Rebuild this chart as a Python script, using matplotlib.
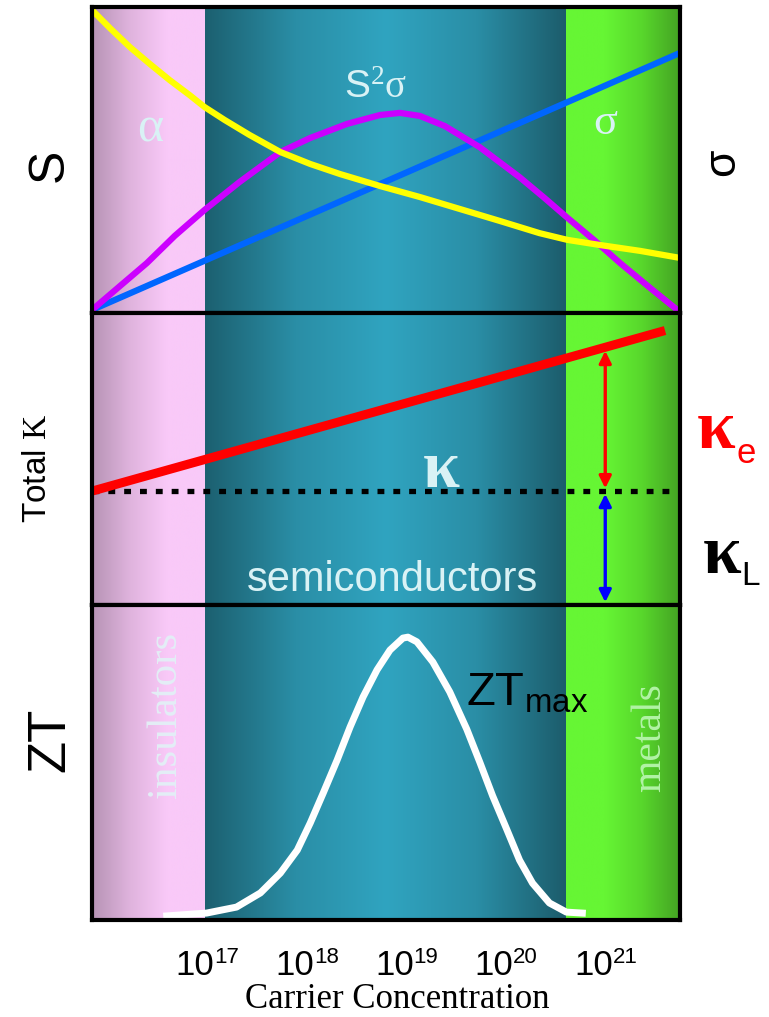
import numpy as np
import matplotlib.pyplot as plt
from matplotlib import font_manager
from matplotlib.colors import LinearSegmentedColormap

names = {f.name for f in font_manager.fontManager.ttflist}
narrow = 'Liberation Sans Narrow' if 'Liberation Sans Narrow' in names else 'Liberation Sans'

plt.rcParams['mathtext.fontset'] = 'custom'
plt.rcParams['mathtext.rm'] = 'Liberation Serif'
plt.rcParams['mathtext.sf'] = 'Liberation Sans'
plt.rcParams['mathtext.it'] = 'Liberation Serif:italic'

# x axis is log10 of carrier concentration
x_lim = (15.8, 21.7)
tick_pos = [17, 18, 19, 20, 21]
tick_labels = ['10', '10', '10', '10', '10']
tick_sups = ['17', '18', '19', '20', '21']

# regions: insulators / semiconductors / metals
region_edges = [15.8, 16.93, 20.56, 21.7]
pink_stops = ['#b693b4', '#dfb3dd', '#f9c9f8', '#f9c9f8']
teal_stops = ['#1c6070', '#2a8ea6', '#30a4c0', '#2a8ea6', '#1c5c6b']
green_stops = ['#66f634', '#66f634', '#58d72c', '#44a323']

# panel 1: Seebeck (alpha), conductivity (sigma), power factor
seebeck_x = [15.80, 15.98, 16.18, 16.38, 16.58, 16.78, 16.93, 17.13, 17.38, 17.69, 17.99,
             18.29, 18.69, 19.09, 19.49, 19.89, 20.29, 20.57, 20.90, 21.30, 21.70]
seebeck_y = [0.990, 0.931, 0.869, 0.814, 0.761, 0.712, 0.673, 0.631, 0.582, 0.526, 0.487,
             0.454, 0.415, 0.379, 0.340, 0.301, 0.261, 0.239, 0.222, 0.203, 0.180]
sigma_x = [15.80, 21.70]
sigma_y = [0.01, 0.85]
pf_x = [15.80, 16.08, 16.35, 16.63, 16.93, 17.28, 17.69, 17.99, 18.36, 18.69, 18.89,
        19.09, 19.34, 19.69, 20.09, 20.34, 20.56, 20.85, 21.10, 21.40, 21.70]
pf_y = [0.010, 0.088, 0.163, 0.252, 0.337, 0.428, 0.526, 0.572, 0.618, 0.647, 0.654,
        0.644, 0.611, 0.542, 0.444, 0.376, 0.314, 0.235, 0.163, 0.082, 0.003]

# panel 2: thermal conductivity
kappa_x = [15.80, 21.55]
kappa_y = [0.39, 0.94]
kappa_lattice = 0.39
arrow_x = 20.95
kappa_at_arrow = 0.88

# panel 3: ZT
zt_x = [16.55, 16.95, 17.25, 17.49, 17.69, 17.86, 17.99, 18.12, 18.26, 18.39, 18.52, 18.66,
        18.79, 18.92, 18.97, 19.06, 19.22, 19.39, 19.56, 19.69, 19.82, 19.96, 20.09, 20.22,
        20.39, 20.56, 20.72]
zt_y = [0.013, 0.022, 0.041, 0.086, 0.149, 0.222, 0.308, 0.403, 0.508, 0.613, 0.708, 0.794,
        0.857, 0.895, 0.898, 0.883, 0.819, 0.724, 0.606, 0.502, 0.394, 0.289, 0.190, 0.117,
        0.054, 0.025, 0.022]

light = '#d9f2f5'
serif = 'Liberation Serif'
sans = 'Liberation Sans'

fig = plt.figure(figsize=(7.69, 10.17), dpi=100)
left, width = 92 / 769, 588 / 769
ax1 = fig.add_axes([left, 1 - 313 / 1017, width, 306 / 1017])
ax2 = fig.add_axes([left, 1 - 605 / 1017, width, 292 / 1017])
ax3 = fig.add_axes([left, 1 - 920 / 1017, width, 315 / 1017])

grad = np.linspace(0, 1, 256)[np.newaxis, :]
for ax in (ax1, ax2, ax3):
    for i, stops in enumerate([pink_stops, teal_stops, green_stops]):
        cmap = LinearSegmentedColormap.from_list('g%d' % i, stops)
        ax.imshow(grad, cmap=cmap, aspect='auto', zorder=0,
                  extent=(region_edges[i], region_edges[i + 1], 0, 1))
    ax.set_xlim(*x_lim)
    ax.set_ylim(0, 1)
    ax.set_yticks([])
    ax.set_xticks([])
    for s in ax.spines.values():
        s.set_linewidth(3)
        s.set_color('black')
        s.set_zorder(5)

# top panel
ax1.plot(seebeck_x, seebeck_y, color='#ffff00', lw=4.5, solid_capstyle='butt', zorder=3)
ax1.plot(sigma_x, sigma_y, color='#0066ff', lw=4.5, solid_capstyle='butt', zorder=2)
ax1.plot(pf_x, pf_y, color='#cc00ff', lw=4.5, solid_capstyle='butt', zorder=2)
ax1.text(16.38, 0.60, 'α', color=light, fontsize=36, family=serif, ha='center', va='center')
ax1.text(18.65, 0.74, r'$\mathsf{S}^{2}\mathrm{σ}$', color=light, fontsize=28, ha='center', va='center')
ax1.text(20.95, 0.62, 'σ', color=light, fontsize=32, family=serif, ha='center', va='center')

# middle panel
ax2.plot(kappa_x, kappa_y, color='#ff0000', lw=6.5, solid_capstyle='butt', zorder=3)
ax2.plot(x_lim, [kappa_lattice, kappa_lattice], color='black', lw=3.8,
         linestyle=(0, (1.3, 1.7)), zorder=2)
ax2.annotate('', xy=(arrow_x, kappa_lattice), xytext=(arrow_x, kappa_at_arrow),
             arrowprops=dict(arrowstyle='<|-|>', color='#ff0000', lw=2.4, mutation_scale=18), zorder=4)
ax2.annotate('', xy=(arrow_x, 0.0), xytext=(arrow_x, kappa_lattice),
             arrowprops=dict(arrowstyle='<|-|>', color='#0000ff', lw=2.4, mutation_scale=18), zorder=4)
ax2.text(19.30, 0.405, 'κ', color=light, fontsize=48, family=serif, weight='bold',
         ha='center', va='baseline')
ax2.text(18.82, 0.085, 'semiconductors', color=light, fontsize=30, family=sans, ha='center', va='center')

# bottom panel
ax3.plot(zt_x, zt_y, color='white', lw=5, zorder=3)
ax3.text(16.54, 0.65, 'insulators', color='#e3eef6', fontsize=31, family=serif,
         rotation=90, ha='center', va='center')
ax3.text(21.40, 0.58, 'metals', color='#b2f3a6', fontsize=30, family=serif,
         rotation=90, ha='center', va='center')
ax3.text(19.55, 0.72, r'$\mathsf{ZT_{max}}$', color='black', fontsize=34, ha='left', va='center')
ax3.set_xticks(tick_pos)
ax3.set_xticklabels([])
ax3.tick_params(axis='x', length=0)
for t, base, sup in zip(tick_pos, tick_labels, tick_sups):
    ax3.annotate(base, xy=(t, 0), xycoords=('data', 'axes fraction'), xytext=(2, -39.5),
                 textcoords='offset points', ha='right', va='baseline', fontsize=25, family=narrow)
    ax3.annotate(sup, xy=(t, 0), xycoords=('data', 'axes fraction'), xytext=(2, -31),
                 textcoords='offset points', ha='left', va='baseline', fontsize=16, family=narrow)

# axis-side labels
fig.text(50 / 769, 1 - 165 / 1017, 'S', fontsize=36, family=sans, rotation=90, ha='center', va='center')
fig.text(38 / 769, 1 - 468 / 1017, r'Total $\mathrm{K}$', fontsize=24, family=narrow, rotation=90, ha='center', va='center')
fig.text(50 / 769, 1 - 740 / 1017, 'ZT', fontsize=38, family=sans, rotation=90, ha='center', va='center')
fig.text(723 / 769, 1 - 162 / 1017, 'σ', fontsize=32, family=sans, rotation=90, ha='center', va='center')
fig.text(716 / 769, 1 - 448 / 1017, 'κ', fontsize=50, family=serif, weight='bold', color='#ff0000', ha='center', va='baseline')
fig.text(736 / 769, 1 - 463 / 1017, 'e', fontsize=25, family=sans, color='#ff0000', ha='left', va='baseline')
fig.text(722 / 769, 1 - 573 / 1017, 'κ', fontsize=50, family=serif, weight='bold', color='black', ha='center', va='baseline')
fig.text(741 / 769, 1 - 585 / 1017, 'L', fontsize=24, family=sans, color='black', ha='left', va='baseline')
fig.text(397 / 769, 1 - 1000 / 1017, 'Carrier Concentration', fontsize=25, family=serif, ha='center', va='center')

fig.savefig('out.png', dpi=100)
